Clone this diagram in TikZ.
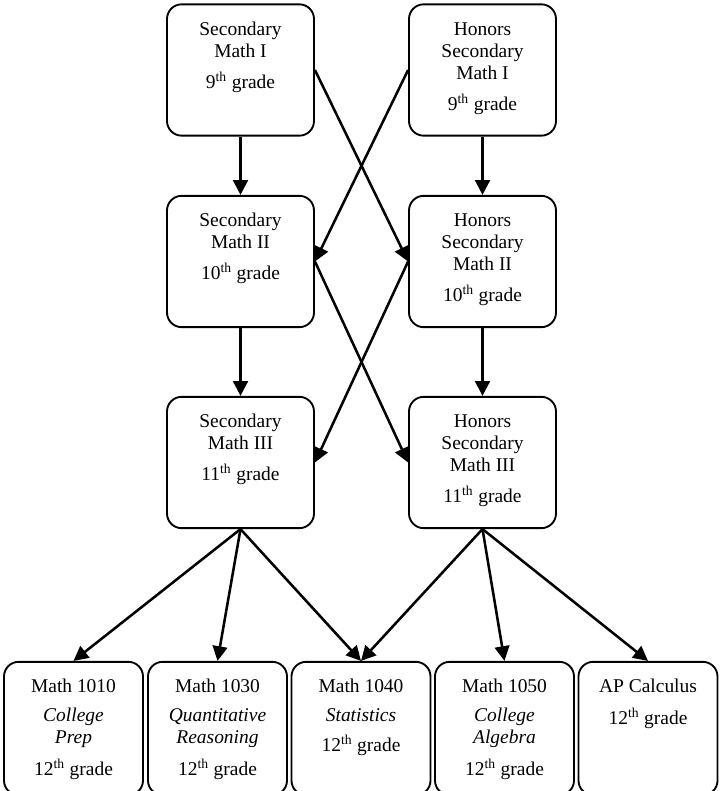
\documentclass[tikz,border=0pt]{standalone}
\usepackage{fontspec}
\setmainfont{Liberation Serif}
\usetikzlibrary{arrows.meta}
\newcommand\grd[1]{#1\textsuperscript{th} grade}
\begin{document}
\begin{tikzpicture}[x=0.75pt,y=-0.75pt,
  box/.style={draw,line width=1.4pt,rounded corners=11pt,inner sep=0pt,minimum width=110.25pt,minimum height=98.5pt},
  lowbox/.style={box,minimum width=104.25pt,minimum height=100pt},
  txt/.style={anchor=base,inner sep=0pt,font=\fontsize{14.6}{16.5}\selectfont},
  arr/.style={line width=1.9pt,-{Triangle[length=11pt,width=11pt]}}
]
\useasboundingbox (0,0) rectangle (719,791);
\clip (0,0) rectangle (719,791);
% boxes
\node[box] (b1) at (240.5,70) {};
\node[box] (b2) at (482.5,70) {};
\node[box] (b3) at (240.5,261.5) {};
\node[box] (b4) at (482.5,261.5) {};
\node[box] (b5) at (240.5,462.5) {};
\node[box] (b6) at (482.5,462.5) {};
\node[lowbox] (c1) at (73.5,728.5) {};
\node[lowbox] (c2) at (217.5,728.5) {};
\node[lowbox] (c3) at (361,728.5) {};
\node[lowbox] (c4) at (504.5,728.5) {};
\node[lowbox] (c5) at (648,728.5) {};
% texts
\node[txt] (t1) at ([yshift=-24pt]b1.north) {\parbox[t]{105pt}{\centering Secondary\\Math I\\[6.75pt]\grd{9}}};
\node[txt] (t2) at ([yshift=-24pt]b2.north) {\parbox[t]{105pt}{\centering Honors\\Secondary\\Math I\\[6.75pt]\grd{9}}};
\node[txt] (t3) at ([yshift=-23.5pt]b3.north) {\parbox[t]{105pt}{\centering Secondary\\Math II\\[6.75pt]\grd{10}}};
\node[txt] (t4) at ([yshift=-23.5pt]b4.north) {\parbox[t]{105pt}{\centering Honors\\Secondary\\Math II\\[6.75pt]\grd{10}}};
\node[txt] (t5) at ([yshift=-23.5pt]b5.north) {\parbox[t]{105pt}{\centering Secondary\\Math III\\[6.75pt]\grd{11}}};
\node[txt] (t6) at ([yshift=-23.5pt]b6.north) {\parbox[t]{105pt}{\centering Honors\\Secondary\\Math III\\[6.75pt]\grd{11}}};
\node[txt] (u1) at ([yshift=-23.5pt]c1.north) {\parbox[t]{101pt}{\centering Math 1010\\[5.25pt]\textit{College}\\\textit{Prep}\\[7.5pt]\grd{12}}};
\node[txt] (u2) at ([yshift=-23.5pt]c2.north) {\parbox[t]{101pt}{\centering Math 1030\\[5.25pt]\textit{Quantitative}\\\textit{Reasoning}\\[7.5pt]\grd{12}}};
\node[txt] (u3) at ([yshift=-23.5pt]c3.north) {\parbox[t]{101pt}{\centering Math 1040\\[5.25pt]\textit{Statistics}\\[6.5pt]\grd{12}}};
\node[txt] (u4) at ([yshift=-23.5pt]c4.north) {\parbox[t]{101pt}{\centering Math 1050\\[5.25pt]\textit{College}\\\textit{Algebra}\\[7.5pt]\grd{12}}};
\node[txt] (u5) at ([yshift=-23.5pt]c5.north) {\parbox[t]{101pt}{\centering AP Calculus\\[8pt]\grd{12}}};
% arrows
\draw[arr] (b1.south) -- (b3.north);
\draw[arr] (b2.south) -- (b4.north);
\draw[arr] (b1.east) -- (b4.west);
\draw[arr] (b2.west) -- (b3.east);
\draw[arr] (b3.south) -- (b5.north);
\draw[arr] (b4.south) -- (b6.north);
\draw[arr] (b3.east) -- (b6.west);
\draw[arr] (b4.west) -- (b5.east);
\draw[arr] (b5.south) -- (c1.north);
\draw[arr] (b5.south) -- (c2.north);
\draw[arr] (b5.south) -- (c3.north);
\draw[arr] (b6.south) -- (c3.north);
\draw[arr] (b6.south) -- (c4.north);
\draw[arr] (b6.south) -- (c5.north);
\end{tikzpicture}
\end{document}
